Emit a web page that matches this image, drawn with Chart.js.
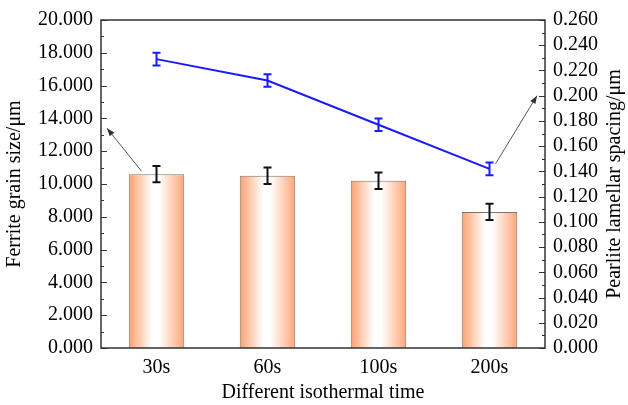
<!DOCTYPE html>
<html>
<head>
<meta charset="utf-8">
<script src="https://cdn.jsdelivr.net/npm/chart.js@4.4.1/dist/chart.umd.min.js"></script>
<style>
  html, body { margin: 0; padding: 0; background: #fff; }
  #wrap { width: 628px; height: 405px; }
</style>
</head>
<body>
<div id="wrap"><canvas id="chart" width="628" height="405"></canvas></div>
<script>
// ---- data ----
const categories = ['30s', '60s', '100s', '200s'];
const grainSize = [10.6, 10.5, 10.2, 8.3];        // left axis, µm
const grainErr = [0.5, 0.5, 0.5, 0.5];
const lamellarSpacing = [0.229, 0.212, 0.177, 0.142]; // right axis, µm
const lamellarErr = [0.005, 0.005, 0.005, 0.005];

const leftTicks = [0, 2, 4, 6, 8, 10, 12, 14, 16, 18, 20];
const rightTicks = [0, 0.02, 0.04, 0.06, 0.08, 0.10, 0.12, 0.14, 0.16, 0.18, 0.20, 0.22, 0.24, 0.26];

const FONT = "'Liberation Serif', 'Times New Roman', serif";

// bar fill: orange edges fading to white in the middle
function barFill(c) {
  const chart = c.chart;
  const xs = chart.scales.x;
  if (!xs || c.dataIndex === undefined) return 'rgb(255,170,120)';
  const cx = xs.getPixelForValue(c.dataIndex);
  const w = (xs.width / categories.length) * 0.5;
  if (!isFinite(cx) || !isFinite(w) || w <= 0) return 'rgb(255,170,120)';
  const g = chart.ctx.createLinearGradient(cx - w / 2, 0, cx + w / 2, 0);
  g.addColorStop(0, 'rgb(255,160,110)');
  g.addColorStop(0.42, '#ffffff');
  g.addColorStop(0.55, '#ffffff');
  g.addColorStop(1, 'rgb(255,165,120)');
  return g;
}

// error bars, frame, inner ticks, arrows, right title
const extras = {
  id: 'extras',
  afterDatasetsDraw(chart) {
    const ctx = chart.ctx;
    const x = chart.scales.x, yL = chart.scales.y, yR = chart.scales.y1;

    function errBar(cx, top, bot, color, cap) {
      ctx.save();
      ctx.strokeStyle = color;
      ctx.lineWidth = 2;
      ctx.beginPath();
      ctx.moveTo(cx, top); ctx.lineTo(cx, bot);
      ctx.moveTo(cx - cap, top); ctx.lineTo(cx + cap, top);
      ctx.moveTo(cx - cap, bot); ctx.lineTo(cx + cap, bot);
      ctx.stroke();
      ctx.restore();
    }
    grainSize.forEach((v, i) => {
      const cx = x.getPixelForValue(i);
      errBar(cx, yL.getPixelForValue(v + grainErr[i]), yL.getPixelForValue(v - grainErr[i]), '#111', 4);
    });
    lamellarSpacing.forEach((v, i) => {
      const cx = x.getPixelForValue(i);
      errBar(cx, yR.getPixelForValue(v + lamellarErr[i]), yR.getPixelForValue(v - lamellarErr[i]), '#1a1aff', 4);
    });
  },
  afterDraw(chart) {
    const ctx = chart.ctx;
    const a = chart.chartArea;
    const x = chart.scales.x, yL = chart.scales.y, yR = chart.scales.y1;

    ctx.save();
    ctx.strokeStyle = '#333';
    ctx.lineWidth = 1.5;
    ctx.strokeRect(a.left, a.top, a.right - a.left, a.bottom - a.top);

    // inner ticks, major + minor
    ctx.lineWidth = 1.2;
    ctx.beginPath();
    for (let v = 0; v <= 20; v++) {
      const py = Math.round(yL.getPixelForValue(v)) + 0.5;
      const len = v % 2 === 0 ? 6 : 3;
      ctx.moveTo(a.left, py); ctx.lineTo(a.left + len, py);
    }
    for (let k = 0; k <= 26; k++) {
      const py = Math.round(yR.getPixelForValue(k / 100)) + 0.5;
      const len = k % 2 === 0 ? 6 : 3;
      ctx.moveTo(a.right, py); ctx.lineTo(a.right - len, py);
    }
    ctx.stroke();

    // pointer arrows
    function arrow(x0, y0, x1, y1) {
      ctx.strokeStyle = '#555';
      ctx.fillStyle = '#333';
      ctx.lineWidth = 1;
      ctx.beginPath();
      ctx.moveTo(x0, y0); ctx.lineTo(x1, y1);
      ctx.stroke();
      const ang = Math.atan2(y1 - y0, x1 - x0);
      const L = 8, W = 3;
      ctx.beginPath();
      ctx.moveTo(x1, y1);
      ctx.lineTo(x1 - L * Math.cos(ang) + W * Math.sin(ang), y1 - L * Math.sin(ang) - W * Math.cos(ang));
      ctx.lineTo(x1 - L * Math.cos(ang) - W * Math.sin(ang), y1 - L * Math.sin(ang) + W * Math.cos(ang));
      ctx.closePath();
      ctx.fill();
    }
    arrow(x.getPixelForValue(0) - 15, yL.getPixelForValue(grainSize[0]) - 3,
          a.left + 6, yL.getPixelForValue(13.4));
    arrow(x.getPixelForValue(3) + 6, yR.getPixelForValue(lamellarSpacing[3]) - 5,
          a.right - 8, yR.getPixelForValue(0.2));

    // right axis title, reading bottom to top
    ctx.fillStyle = '#000';
    ctx.font = '20px ' + FONT;
    ctx.textAlign = 'center';
    ctx.textBaseline = 'middle';
    ctx.translate(615, (a.top + a.bottom) / 2);
    ctx.rotate(-Math.PI / 2);
    ctx.fillText('Pearlite lamellar spacing/\u03bcm', 0, 0);
    ctx.restore();
  }
};

const ctx = document.getElementById('chart').getContext('2d');
new Chart(ctx, {
  data: {
    labels: categories,
    datasets: [
      {
        type: 'bar',
        data: grainSize,
        yAxisID: 'y',
        backgroundColor: barFill,
        borderColor: 'rgb(130,115,105)',
        borderWidth: 1,
        barPercentage: 0.5,
        categoryPercentage: 1.0,
        order: 2
      },
      {
        type: 'line',
        data: lamellarSpacing,
        yAxisID: 'y1',
        borderColor: '#1a1aff',
        borderWidth: 2,
        pointRadius: 0,
        tension: 0,
        fill: false,
        order: 1
      }
    ]
  },
  options: {
    responsive: false,
    animation: false,
    layout: { padding: { left: 0, right: 0, top: 17, bottom: 0 } },
    plugins: { legend: { display: false }, tooltip: { enabled: false } },
    scales: {
      x: {
        grid: { display: false, drawTicks: false },
        border: { display: false },
        ticks: { color: '#000', font: { family: FONT, size: 20 }, padding: 8 },
        title: {
          display: true, text: 'Different isothermal time', color: '#000',
          font: { family: FONT, size: 20 }, padding: { top: 3, bottom: 0 }
        },
        afterFit(s) { s.height = 57; }
      },
      y: {
        position: 'left',
        min: 0, max: 20,
        grid: { display: false, drawTicks: false },
        border: { display: false },
        afterBuildTicks(s) { s.ticks = leftTicks.map(v => ({ value: v })); },
        ticks: {
          autoSkip: false, color: '#000', padding: 8,
          font: { family: FONT, size: 20 },
          callback: v => Number(v).toFixed(3)
        },
        title: {
          display: true, text: 'Ferrite grain size/\u03bcm', color: '#000',
          font: { family: FONT, size: 20 }, padding: { top: 3, bottom: 2 }
        },
        afterFit(s) { s.width = 101; }
      },
      y1: {
        position: 'right',
        min: 0, max: 0.26,
        grid: { display: false, drawTicks: false },
        border: { display: false },
        afterBuildTicks(s) { s.ticks = rightTicks.map(v => ({ value: v })); },
        ticks: {
          autoSkip: false, color: '#000', padding: 8,
          font: { family: FONT, size: 20 },
          callback: v => Number(v).toFixed(3)
        },
        afterFit(s) { s.width = 83; }
      }
    }
  },
  plugins: [extras]
});
</script>
</body>
</html>
